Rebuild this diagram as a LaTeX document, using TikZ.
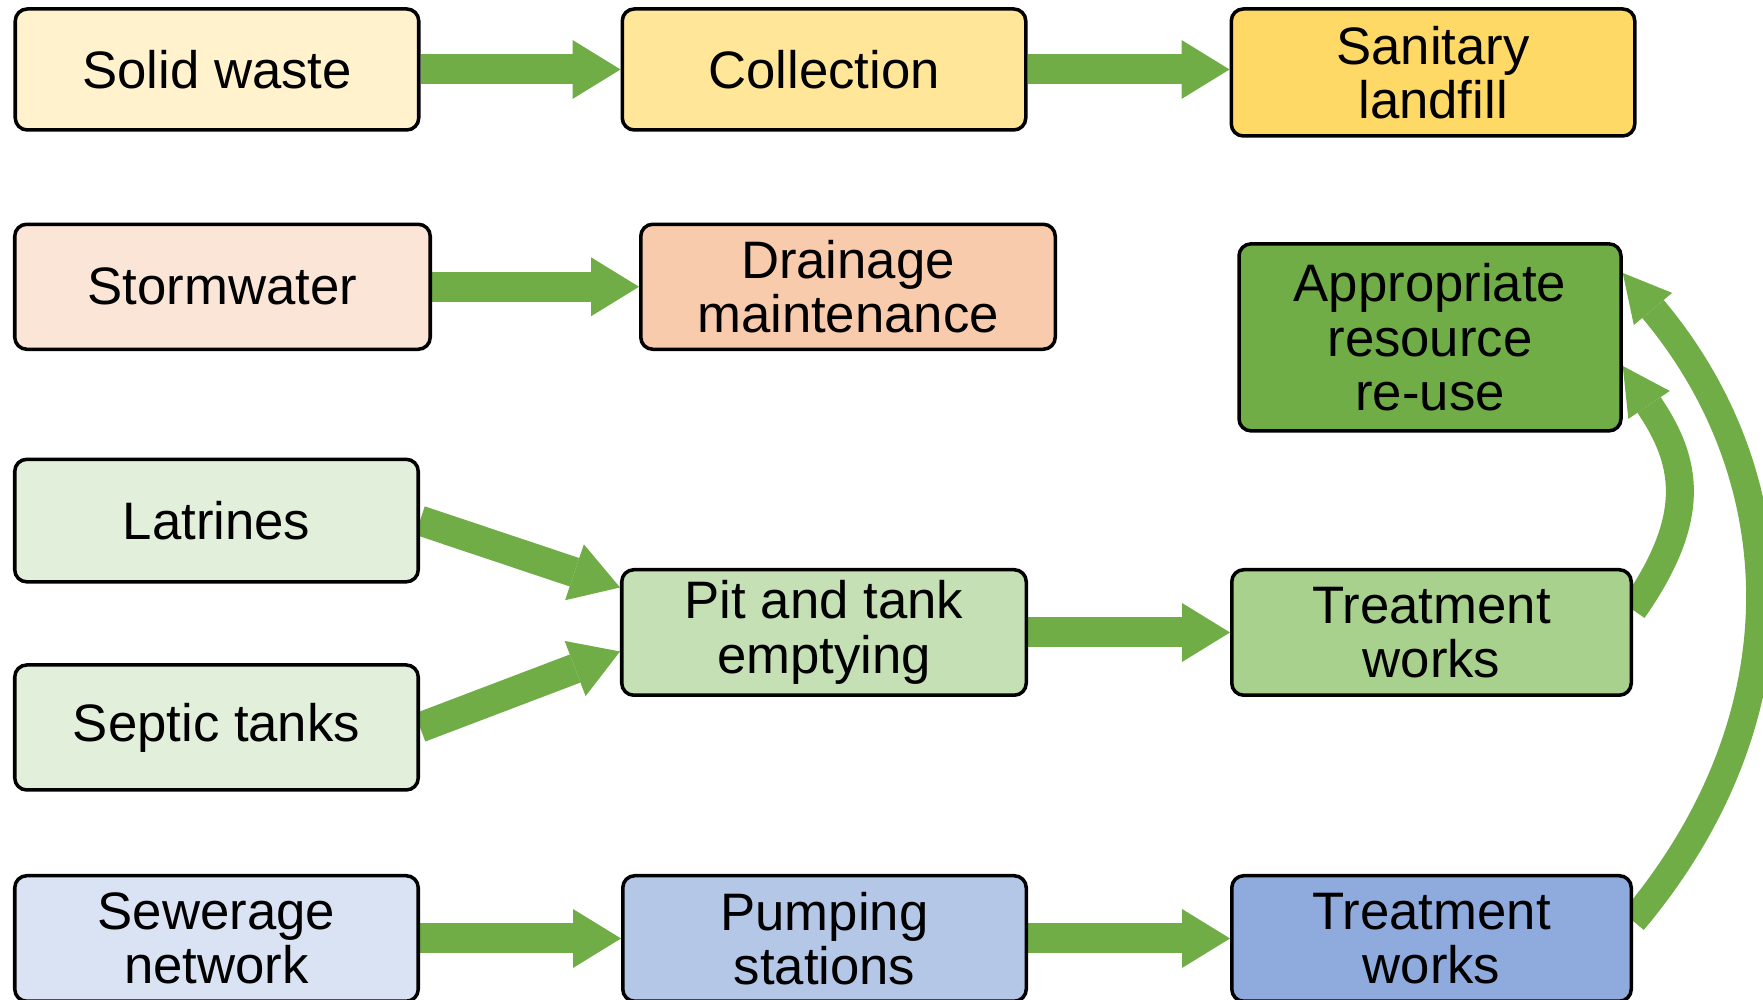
\documentclass[tikz,border=0pt]{standalone}
\usepackage{fontspec}
\setmainfont{Liberation Sans}
\usepackage{xcolor}
\usetikzlibrary{arrows.meta, positioning, backgrounds}

\definecolor{flowgreen}{HTML}{70AD47}
\definecolor{solidfill}{HTML}{FFF2CC}
\definecolor{collectfill}{HTML}{FFE699}
\definecolor{landfillfill}{HTML}{FFD966}
\definecolor{stormfill}{HTML}{FBE5D6}
\definecolor{drainfill}{HTML}{F8CBAD}
\definecolor{onsitefill}{HTML}{E2EFDA}
\definecolor{emptyfill}{HTML}{C5E0B4}
\definecolor{treatfill}{HTML}{A9D18E}
\definecolor{reusefill}{HTML}{70AD47}
\definecolor{sewerfill}{HTML}{DAE3F3}
\definecolor{pumpfill}{HTML}{B4C7E7}
\definecolor{sewtreatfill}{HTML}{8FAADC}

\begin{document}
\begin{tikzpicture}[
        box/.style={rectangle, draw, line width=1pt, rounded corners=1.2mm, align=center, inner sep=0pt,
            minimum width=4.035cm, minimum height=1.25cm, font=\fontsize{15}{15.5}\selectfont},
        flow/.style={color=flowgreen, line width=3mm, -{Triangle[width=5.9mm, length=4.8mm, line width=0pt]}},
        loop/.style={color=flowgreen, line width=2.8mm, -{Triangle[width=5mm, length=4.7mm, line width=0pt]}},
        node distance=2cm
    ]
    \useasboundingbox (0,0) rectangle (17.63,10);

    % solid waste
    \node[box, fill=solidfill, minimum height=1.21cm] (sw) at (2.17,9.305) {Solid waste};
    \node[box, fill=collectfill, minimum height=1.21cm, right=of sw] (col) {Collection};
    \node[box, fill=landfillfill, minimum height=1.27cm, right=2.02cm of col, yshift=-0.3mm] (sl) {Sanitary\\landfill};

    % stormwater
    \node[box, fill=stormfill, minimum width=4.155cm] (storm) at (2.225,7.132) {Stormwater};
    \node[box, fill=drainfill, minimum width=4.145cm, right=2.07cm of storm] (drain) {Drainage\\maintenance};
    \node[box, fill=reusefill, minimum width=3.82cm, minimum height=1.87cm] (reuse) at (14.3,6.626) {Appropriate\\resource\\re-use};

    % on-site sanitation
    \node[box, fill=onsitefill, minimum height=1.225cm] (lat) at (2.165,4.794) {Latrines};
    \node[box, fill=onsitefill] (sep) at (2.165,2.725) {Septic tanks};
    \node[box, fill=emptyfill, minimum width=4.045cm, minimum height=1.255cm] (pit) at (8.24,3.675) {Pit and tank\\emptying};
    \node[box, fill=treatfill, minimum width=3.995cm, minimum height=1.255cm, right=2.02cm of pit] (tw1) {Treatment\\works};

    % sewerage
    \node[box, fill=sewerfill, minimum height=1.255cm] (sew) at (2.165,0.615) {Sewerage\\network};
    \node[box, fill=pumpfill, minimum height=1.255cm, right=2.01cm of sew] (pump) {Pumping\\stations};
    \node[box, fill=sewtreatfill, minimum width=3.995cm, minimum height=1.255cm, right=2.02cm of pump] (tw2) {Treatment\\works};

    % arrows
    \begin{scope}[on background layer]
        \draw[flow] (sw) -- (col);
        \draw[flow] (col) -- (sl.west |- col.east);
        \draw[flow] (storm) -- (drain);
        \draw[flow] (lat.east) -- ([yshift=4.5mm]pit.west);
        \draw[flow] (sep.east) -- ([yshift=-1.9mm]pit.west);
        \draw[flow] (pit) -- (tw1);
        \draw[flow] (sew) -- (pump);
        \draw[flow] (pump) -- (tw2);
        \draw[loop] ([yshift=2.25mm]tw1.east) to[out=55, in=-56, looseness=1.2] ([yshift=-2.86mm]reuse.east);
        \draw[loop] ([yshift=1.75mm]tw2.east) to[out=50, in=-50, looseness=1.05] ([yshift=6.44mm]reuse.east);
    \end{scope}

\end{tikzpicture}
\end{document}
